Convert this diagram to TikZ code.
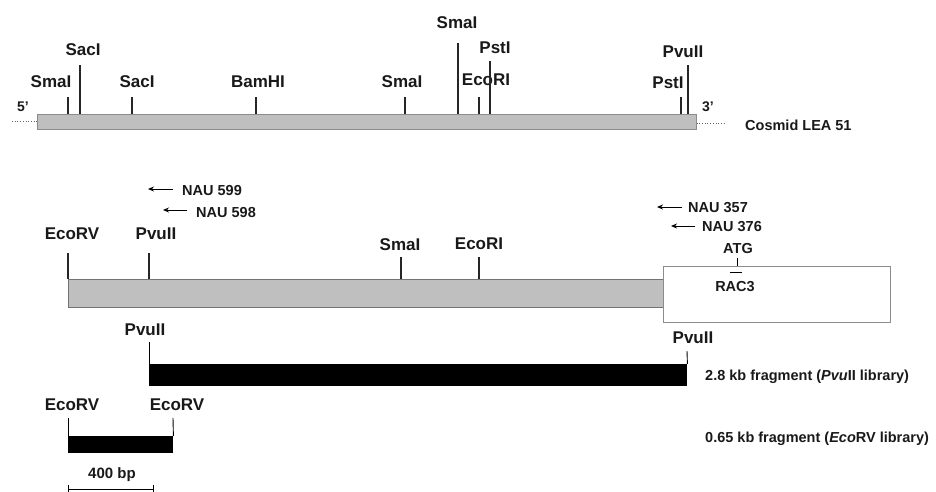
\documentclass[tikz,border=0pt]{standalone}
\usepackage{fontspec}
\setmainfont{Liberation Sans}
\usetikzlibrary{arrows.meta,calc}
\begin{document}
\begin{tikzpicture}[x=1pt,y=-1pt,
  site/.style={font=\bfseries\fontsize{17}{17}\selectfont, inner sep=0pt, anchor=base, text=black!90},
  small/.style={font=\bfseries\fontsize{14.5}{14.5}\selectfont, inner sep=0pt, anchor=base west, text=black!90},
  tick/.style={line width=1.1pt, draw=black!85},
  prim/.style={line width=0.9pt, -{Stealth[length=6pt,width=5pt]}},
  dots/.style={dotted, line width=0.7pt, draw=black!60}]
\useasboundingbox (0,0) rectangle (936,492);
% ---------- Cosmid ----------
\node[draw=black!45, fill=black!25, line width=0.6pt, minimum width=659pt, minimum height=15pt, anchor=north west, inner sep=0pt] (cos) at (37,114) {};
\coordinate (dl) at (12,121);
\coordinate (dr) at (726,123);
\draw[dots] (dl) -- (cos.west |- dl);
\draw[dots] (cos.east |- dr) -- (dr);
\node[small, font=\bfseries\fontsize{14}{14}\selectfont] (p5) at (17,111) {5'};
\node[small, font=\bfseries\fontsize{14}{14}\selectfont] (p3) at (702,111) {3'};
\node[small] (cosl) at (745,131) {Cosmid LEA 51};
% sites on cosmid: x, top, label x, baseline
\foreach \n/\x/\t/\lx/\ly/\txt in {a/68/97/51/88/SmaI, b/80/65/83/56/SacI, c/132/97/137/88/SacI, d/256/97/258/88/BamHI, e/405/97/402/88/SmaI, f/458/43/457/29/SmaI, g/479/97/486/86/EcoRI, h/490/61/495/54/PstI, i/681/97/668/89/PstI, j/688/65/683/58/PvuII}{
  \coordinate (ct\n) at (\x,\t);
  \draw[tick] (ct\n) -- (cos.north -| ct\n);
  \node[site] (cl\n) at (\lx,\ly) {\txt};
}
% ---------- Middle map ----------
\node[draw=black!55, fill=black!25, line width=0.6pt, minimum width=595pt, minimum height=28pt, anchor=north west, inner sep=0pt] (gene) at (68,279) {};
\node[draw=black!45, fill=white, line width=0.8pt, minimum width=227pt, minimum height=56pt, anchor=north west, inner sep=0pt] (rac) at (663,266) {};
\foreach \n/\x/\t/\lx/\ly/\txt in {a/68/253/72/239/EcoRV, b/149/253/156/239/PvuII, c/401/257/400/250/SmaI, d/479/257/479/249/EcoRI}{
  \coordinate (mt\n) at (\x,\t);
  \draw[tick] (mt\n) -- (gene.north -| mt\n);
  \node[site] (ml\n) at (\lx,\ly) {\txt};
}
% ATG
\coordinate (atg) at (737,258);
\draw[line width=1pt] (atg) -- (rac.north -| atg);
\node[site, font=\bfseries\fontsize{14.5}{14.5}\selectfont] (atgl) at (738,253) {ATG};
\coordinate (r1) at (730,272);
\coordinate (r2) at (742,272);
\draw[line width=1pt] (r1) -- (r2);
\node[site, font=\bfseries\fontsize{14.5}{14.5}\selectfont] (racl) at (735,291) {RAC3};
% primers
\node[small] (n599) at (182,195) {NAU 599};
\node[small] (n598) at (196,217) {NAU 598};
\node[small] (n357) at (688,212) {NAU 357};
\node[small] (n376) at (702,231) {NAU 376};
\coordinate (t599) at (148,189);
\coordinate (t598) at (163,210);
\coordinate (t357) at (657,207);
\coordinate (t376) at (671,226);
\draw[prim] (t599 -| n599.west) ++(-9,0) -- (t599);
\draw[prim] (t598 -| n598.west) ++(-9,0) -- (t598);
\draw[prim] (t357 -| n357.west) ++(-6,0) -- (t357);
\draw[prim] (t376 -| n376.west) ++(-7,0) -- (t376);
% ---------- Fragments ----------
\node[fill=black, minimum width=538pt, minimum height=22pt, anchor=north west, inner sep=0pt] (f28) at (149,364) {};
\coordinate (fa) at (149,342);
\coordinate (fb) at (687,351);
\draw[line width=0.9pt] (fa) -- (f28.north west);
\draw[line width=0.9pt] (fb) -- (f28.north east);
\node[site] (fla) at (145,335) {PvuII};
\node[site] (flb) at (693,343) {PvuII};
\node[small] (f28l) at (705,380) {2.8 kb fragment (\textit{Pvu}II library)};
\node[fill=black, minimum width=105pt, minimum height=17pt, anchor=north west, inner sep=0pt] (f065) at (68,436) {};
\coordinate (ea) at (68,418);
\coordinate (eb) at (173,418);
\draw[line width=0.9pt] (ea) -- (f065.north west);
\draw[line width=0.9pt] (eb) -- (f065.north east);
\node[site] (ela) at (72,410) {EcoRV};
\node[site] (elb) at (177,410) {EcoRV};
\node[small] (f065l) at (705,442) {0.65 kb fragment (\textit{Eco}RV library)};
% scale bar
\coordinate (s1) at (68,489);
\coordinate (s2) at (153,489);
\draw[line width=0.9pt] (s1) -- (s2);
\draw[line width=0.9pt] ($(s1)+(0,-4)$) -- ($(s1)+(0,4)$);
\draw[line width=0.9pt] ($(s2)+(0,-4)$) -- ($(s2)+(0,4)$);
\node[site, font=\bfseries\fontsize{15}{15}\selectfont] (scl) at (112,478) {400 bp};
\end{tikzpicture}
\end{document}
